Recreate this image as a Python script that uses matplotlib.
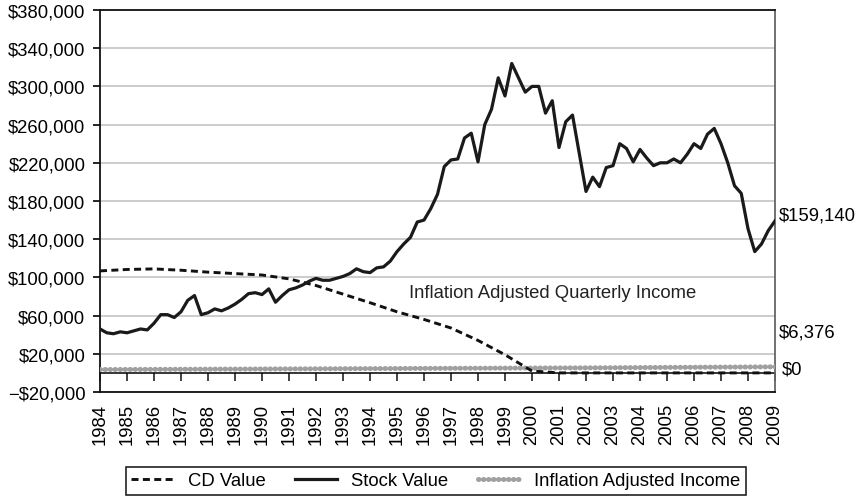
import matplotlib.pyplot as plt
from matplotlib.lines import Line2D
from matplotlib.ticker import FuncFormatter

plt.rcParams["font.family"] = ["Liberation Sans", "DejaVu Sans"]
FS = 13.3

# quarterly stock value, 1984Q1 .. 2009Q1 (thousands of dollars)
stock_k = [
    46, 42, 41, 43, 42, 44, 46, 45, 52, 61,
    61, 58, 64, 76, 81, 61, 63, 67, 65, 68,
    72, 77, 83, 84, 82, 88, 74, 81, 87, 89,
    92, 96, 99, 97, 97, 99, 101, 104, 109, 106,
    105, 110, 111, 117, 127, 135, 142, 158, 160, 172,
    187, 216, 223, 224, 246, 251, 221, 260, 276, 309,
    290, 324, 309, 294, 300, 300, 272, 285, 236, 263,
    270, 230, 190, 205, 195, 215, 217, 240, 235, 221,
    234, 225, 217, 220, 220, 224, 220, 229, 240, 235,
    250, 256, 240, 220, 196, 188, 151, 127, 135, 149,
    159.14,
]
stock_years = [1984 + i / 4 for i in range(len(stock_k))]

years = list(range(1984, 2010))
cd_k = [106.8, 108.3, 108.9, 107.5, 105.5, 104, 102.5, 98.5, 91.5, 82.5,
        73.5, 64, 56, 47, 34, 19, 2, 0, 0, 0,
        0, 0, 0, 0, 0, 0]
income = [3500, 3600, 3700, 3800, 3900, 4000, 4100, 4200, 4300, 4400,
          4500, 4600, 4700, 4800, 4900, 5000, 5100, 5200, 5300, 5450,
          5600, 5750, 5900, 6050, 6200, 6376]

stock = [v * 1000 for v in stock_k]
cd = [v * 1000 for v in cd_k]

yticks = list(range(-20000, 380001, 40000))


def money(v, _pos=None):
    if v < 0:
        return "\u2212${:,.0f}".format(-v)
    return "${:,.0f}".format(v)


fig = plt.figure(figsize=(8.63, 5.02), dpi=100)
ax = fig.add_axes([100 / 863, 1 - 393 / 502, 675 / 863, 382 / 502])

ax.set_xlim(1984, 2009)
ax.set_ylim(-20000, 380000)
ax.set_yticks(yticks)
ax.yaxis.set_major_formatter(FuncFormatter(money))
ax.grid(axis="y", color="#c4c4c4", lw=1.2)
ax.set_axisbelow(True)

ax.set_xticks(years)
ax.set_xticklabels([str(y) for y in years], rotation=90, va="top")
ax.tick_params(axis="x", length=0, pad=8, labelsize=FS)
ax.tick_params(axis="y", direction="out", length=5, width=1.2, pad=5.5,
               labelsize=FS)

for side in ("left", "top", "bottom"):
    ax.spines[side].set_linewidth(1.3)
    ax.spines[side].set_color("#111111")
ax.spines["right"].set_linewidth(1.3)
ax.spines["right"].set_color("#666666")

# horizontal axis drawn at $0 with downward year ticks
sec = ax.secondary_xaxis(20000 / 400000)
sec.set_xticks(years)
sec.tick_params(direction="out", length=6, width=1.1, labelbottom=False,
                labeltop=False, color="#111111")
sec.spines["bottom"].set_linewidth(1.1)

ax.plot(years, income, color="#a0a0a0", lw=3.6, ls=(0, (0.1, 0.9)),
        dash_capstyle="round", zorder=3)
ax.plot(years, cd, color="#111111", lw=2.1, ls=(0, (2.4, 1.5)), zorder=4)
ax.plot(stock_years, stock, color="#1a1a1a", lw=2.3, zorder=5)

ax.text(1995.45, 84000, "Inflation Adjusted Quarterly Income",
        fontsize=FS, va="center", ha="left", color="#222222")

ax.annotate(money(stock[-1]), xy=(1, stock[-1]),
            xycoords=("axes fraction", "data"), xytext=(2.5, 4.5),
            textcoords="offset points", va="center", fontsize=FS,
            annotation_clip=False)
ax.annotate(money(income[-1]), xy=(1, income[-1]),
            xycoords=("axes fraction", "data"), xytext=(2.5, 25),
            textcoords="offset points", va="center", fontsize=FS,
            annotation_clip=False)
ax.annotate(money(cd[-1]), xy=(1, cd[-1]),
            xycoords=("axes fraction", "data"), xytext=(5, 3),
            textcoords="offset points", va="center", fontsize=FS,
            annotation_clip=False)

handles = [
    Line2D([], [], color="#111111", lw=2.1, ls=(0, (2.4, 1.5))),
    Line2D([], [], color="#1a1a1a", lw=2.3),
    Line2D([], [], color="#a0a0a0", lw=3.6, ls=(0, (0.1, 0.9)),
           dash_capstyle="round"),
]
leg = fig.legend(handles, ["CD Value", "Stock Value", "Inflation Adjusted Income"],
                 loc="center", bbox_to_anchor=(0.505, 0.04), ncol=3,
                 fontsize=FS, frameon=True, fancybox=False, framealpha=1,
                 edgecolor="#222222", borderpad=0.3, handlelength=2.3,
                 handletextpad=0.75, columnspacing=1.6)
leg.get_frame().set_linewidth(1.2)

fig.savefig("out.png", dpi=100)
